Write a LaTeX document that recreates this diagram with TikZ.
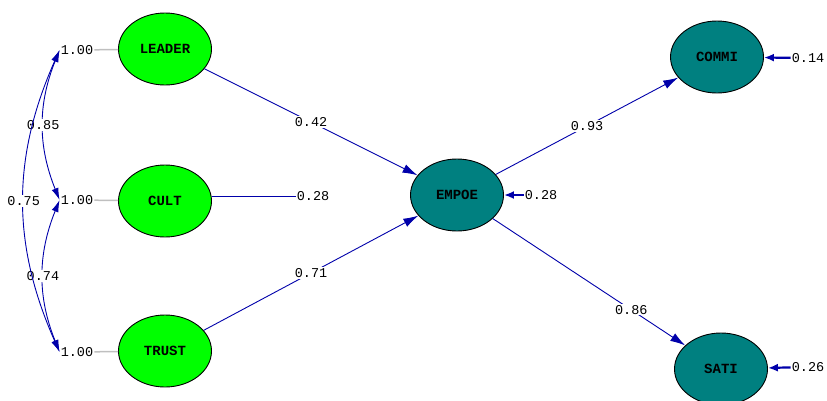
\documentclass[tikz,border=0pt]{standalone}
\usepackage{fontspec}
\setmonofont{Liberation Mono}
\usetikzlibrary{shapes.geometric,arrows.meta}
\definecolor{pathblue}{RGB}{0,0,170}
\definecolor{exogreen}{RGB}{0,255,0}
\definecolor{endoteal}{RGB}{0,128,128}
\tikzset{
    exo/.style={draw, line width=0.9pt, ellipse, fill=exogreen, minimum width=93pt, minimum height=72pt, inner sep=0pt, font=\ttfamily\bfseries\fontsize{14}{14}\selectfont},
    endo/.style={exo, fill=endoteal},
    lbl/.style={fill=white, inner sep=1pt},
    effect/.style={draw=pathblue, line width=0.9pt, -{Latex[length=15pt,width=9pt]}},
    cov/.style={draw=pathblue, line width=0.9pt, {Latex[length=12pt,width=7pt]}-{Latex[length=12pt,width=7pt]}},
    err/.style={draw=pathblue, line width=2.2pt, -{Latex[length=10pt,width=8pt]}},
    unit/.style={draw=gray!50, line width=1.5pt}
}
\begin{document}
\begin{tikzpicture}[x=1pt, y=-1pt, font=\ttfamily\fontsize{13.5}{13.5}\selectfont]
    \useasboundingbox (0,0) rectangle (827,400);

    \node (leader) [exo] at (165,49) {LEADER};
    \node (cult) [exo] at (165,201) {CULT};
    \node (trust) [exo] at (165,351) {TRUST};
    \node (empoe) [endo] at (457,195) {EMPOE};
    \node (commi) [endo] at (717,57) {COMMI};
    \node (sati) [endo] at (721,369) {SATI};

    % variances of the exogenous variables
    \node (vleader) [inner sep=1pt] at (77,50) {1.00};
    \node (vcult) [inner sep=1pt] at (77,200) {1.00};
    \node (vtrust) [inner sep=1pt] at (77,352) {1.00};
    \draw[unit] (vleader) -- (leader);
    \draw[unit] (vcult) -- (cult);
    \draw[unit] (vtrust) -- (trust);

    % covariances
    \draw[cov] (vleader.west) to[bend right=22] node[lbl] {0.85} (vcult.west);
    \draw[cov] (vcult.west) to[bend right=22] node[lbl] {0.74} (vtrust.west);
    \draw[cov] (vleader.west) to[bend right=24] node[lbl] {0.75} (vtrust.west);

    % paths
    \draw[effect] (leader) -- node[lbl] {0.42} (empoe);
    \node (pcult) [lbl] at (313,196) {0.28};
    \draw[draw=pathblue, line width=0.9pt] (pcult.west) -- (pcult.west -| cult.east);
    \draw[effect] (trust) -- node[lbl] {0.71} (empoe);
    \draw[effect] (empoe) -- node[lbl] {0.93} (commi);
    \draw[effect] (empoe) -- node[lbl, pos=0.72] {0.86} (sati);

    % error variances
    \node (eempoe) [inner sep=1pt] at (541,195) {0.28};
    \node (ecommi) [inner sep=1pt] at (808,58) {0.14};
    \node (esati) [inner sep=1pt] at (808,367) {0.26};
    \draw[err] (eempoe) -- (empoe);
    \draw[err] (ecommi) -- (commi);
    \draw[err] (esati) -- (sati);
\end{tikzpicture}
\end{document}
